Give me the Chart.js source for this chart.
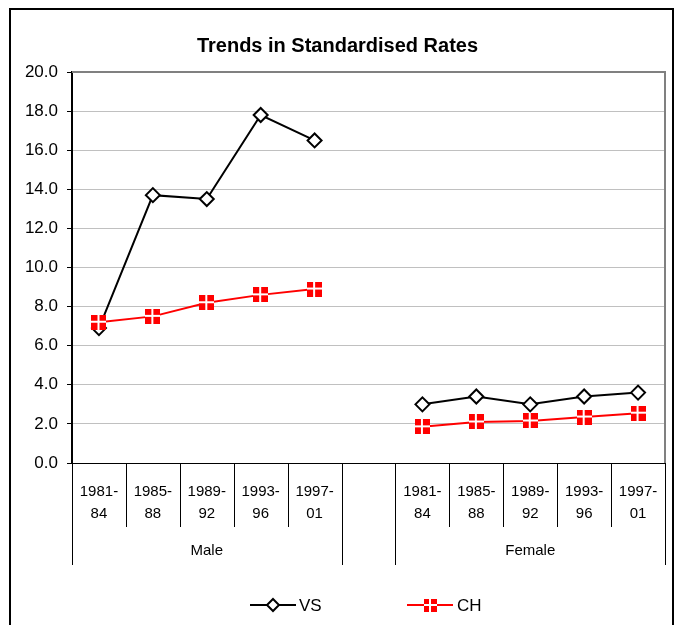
<!DOCTYPE html>
<html lang="en">
<head>
    <meta charset="UTF-8">
    <title>Trends in Standardised Rates</title>
    <script src="https://cdn.jsdelivr.net/npm/chart.js"></script>
    <style>
        body {
            margin: 0;
            padding: 0;
            background-color: white;
        }
        .chart-box {
            position: relative;
            width: 681px;
            height: 625px;
        }
    </style>
</head>
<body>
    <div class="chart-box">
        <canvas id="rateChart" width="681" height="625"></canvas>
    </div>

    <script>
        const periods = ['1981-84', '1985-88', '1989-92', '1993-96', '1997-01'];
        const groups = ['Male', 'Female'];
        const seriesNames = ['VS', 'CH'];
        const vsMale = [6.9, 13.7, 13.5, 17.8, 16.5];
        const vsFemale = [3.0, 3.4, 3.0, 3.4, 3.6];
        const chMale = [7.2, 7.5, 8.2, 8.6, 8.9];
        const chFemale = [1.85, 2.1, 2.15, 2.35, 2.55];
        const yMin = 0, yMax = 20, yStep = 2;

        // male block, one empty slot, female block
        const labels = [...periods, '', ...periods].map(p => p ? [p.slice(0, 5), p.slice(5)] : '');
        const vsData = [...vsMale, null, ...vsFemale];
        const chData = [...chMale, null, ...chFemale];

        const FONT = '"Liberation Sans", Arial, sans-serif';

        function chMarker(size) {
            const c = document.createElement('canvas');
            c.width = size; c.height = size;
            const g = c.getContext('2d');
            g.fillStyle = '#ff0000';
            g.fillRect(0, 0, size, size);
            g.fillStyle = '#ffffff';
            const m = Math.floor(size / 2);
            g.fillRect(m - 1, 0, 2, size);
            g.fillRect(0, m - 1, size, 2);
            return c;
        }

        function drawDiamond(g, x, y, r) {
            g.beginPath();
            g.moveTo(x, y - r); g.lineTo(x + r, y); g.lineTo(x, y + r); g.lineTo(x - r, y); g.closePath();
            g.fillStyle = '#ffffff'; g.fill();
            g.strokeStyle = '#000000'; g.lineWidth = 2; g.stroke();
        }

        const chImg = chMarker(15);

        const framePlugin = {
            id: 'frame',
            beforeDraw(chart) {
                const ctx = chart.ctx;
                ctx.save();
                ctx.fillStyle = '#ffffff';
                ctx.fillRect(0, 0, chart.width, chart.height);
                ctx.strokeStyle = '#000000';
                ctx.lineWidth = 2;
                ctx.beginPath();
                ctx.moveTo(10, 630); ctx.lineTo(10, 9); ctx.lineTo(673, 9); ctx.lineTo(673, 630);
                ctx.stroke();
                ctx.restore();
            },
            beforeDatasetsDraw(chart) {
                const ctx = chart.ctx;
                const a = chart.chartArea;
                ctx.save();
                ctx.strokeStyle = '#808080';
                ctx.lineWidth = 2;
                ctx.beginPath();
                ctx.moveTo(a.left, a.top); ctx.lineTo(a.right, a.top); ctx.lineTo(a.right, a.bottom);
                ctx.stroke();
                ctx.restore();
            },
            afterDraw(chart) {
                const ctx = chart.ctx;
                const x = chart.scales.x;
                const bottom = chart.chartArea.bottom;
                const step = x.getPixelForValue(1) - x.getPixelForValue(0);
                const edge = k => x.getPixelForValue(0) - step / 2 + k * step;
                const longEdges = [0, periods.length, periods.length + 1, labels.length];
                ctx.save();
                ctx.strokeStyle = '#000000';
                ctx.lineWidth = 1;
                for (let k = 0; k <= labels.length; k++) {
                    const len = longEdges.includes(k) ? 102 : 64;
                    const px = Math.round(edge(k)) + 0.5;
                    ctx.beginPath();
                    ctx.moveTo(px, bottom); ctx.lineTo(px, bottom + len);
                    ctx.stroke();
                }
                ctx.font = '15px ' + FONT;
                ctx.fillStyle = '#000000';
                ctx.textAlign = 'center';
                ctx.textBaseline = 'middle';
                ctx.fillText(groups[0], (edge(0) + edge(periods.length)) / 2, bottom + 88);
                ctx.fillText(groups[1], (edge(periods.length + 1) + edge(labels.length)) / 2, bottom + 88);

                // legend: line with marker, then name
                const ly = 605;
                ctx.font = '17px ' + FONT;
                ctx.textAlign = 'left';
                ctx.lineWidth = 2;
                ctx.strokeStyle = '#000000';
                ctx.beginPath(); ctx.moveTo(250, ly); ctx.lineTo(296, ly); ctx.stroke();
                drawDiamond(ctx, 273, ly, 6);
                ctx.fillStyle = '#000000';
                ctx.fillText(seriesNames[0], 299, ly + 1);
                ctx.strokeStyle = '#ff0000';
                ctx.lineWidth = 2;
                ctx.beginPath(); ctx.moveTo(407, ly); ctx.lineTo(453, ly); ctx.stroke();
                ctx.drawImage(chMarker(13), 424, ly - 6);
                ctx.fillStyle = '#000000';
                ctx.fillText(seriesNames[1], 457, ly + 1);
                ctx.restore();
            }
        };

        Chart.defaults.font.family = FONT;
        Chart.defaults.color = '#000000';

        const rateChart = new Chart(document.getElementById('rateChart'), {
            type: 'line',
            data: {
                labels: labels,
                datasets: [
                    {
                        label: seriesNames[0],
                        data: vsData,
                        order: 1,
                        borderColor: '#000000',
                        borderWidth: 2,
                        pointStyle: 'rectRot',
                        pointRadius: 7,
                        pointBackgroundColor: '#ffffff',
                        pointBorderColor: '#000000',
                        pointBorderWidth: 2,
                        tension: 0
                    },
                    {
                        label: seriesNames[1],
                        data: chData,
                        order: 0,
                        borderColor: '#ff0000',
                        borderWidth: 2,
                        pointStyle: chImg,
                        tension: 0
                    }
                ]
            },
            options: {
                responsive: false,
                animation: false,
                layout: { padding: { left: 10, right: 16, top: 28, bottom: 60 } },
                plugins: {
                    title: {
                        display: true,
                        text: 'Trends in Standardised Rates',
                        font: { size: 20, weight: 'bold' },
                        padding: { top: 6, bottom: 14 }
                    },
                    legend: { display: false },
                    tooltip: { enabled: false }
                },
                scales: {
                    x: {
                        offset: true,
                        grid: { display: false, offset: true },
                        border: { color: '#000000', width: 1 },
                        ticks: { font: { size: 15, lineHeight: 1.45 }, padding: 10, maxRotation: 0, autoSkip: false },
                        afterFit(scale) { scale.height = 102; }
                    },
                    y: {
                        min: yMin,
                        max: yMax,
                        grid: { color: '#c0c0c0', tickColor: '#000000', tickLength: 5 },
                        border: { color: '#000000', width: 2 },
                        ticks: {
                            stepSize: yStep,
                            font: { size: 17 },
                            padding: 9,
                            callback: v => v.toFixed(1)
                        },
                        afterFit(scale) { scale.width = 62; }
                    }
                }
            },
            plugins: [framePlugin]
        });
    </script>
</body>
</html>
